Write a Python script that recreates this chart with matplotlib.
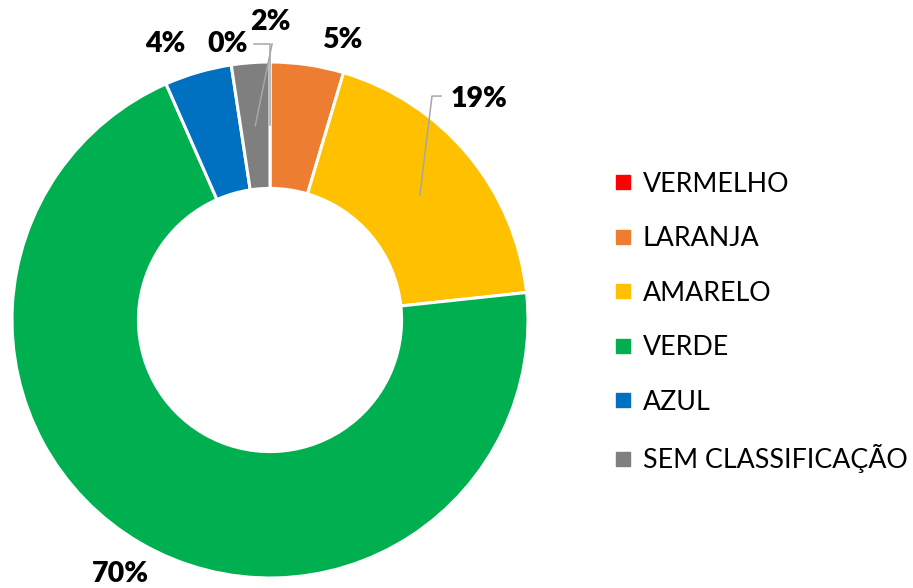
import numpy as np
from matplotlib import pyplot as plt
from matplotlib.lines import Line2D

categories = ['VERMELHO', 'LARANJA', 'AMARELO', 'VERDE', 'AZUL', 'SEM CLASSIFICAÇÃO']
shares = [0.0, 4.6, 18.7, 70.1, 4.2, 2.4]
labels = ['0%', '5%', '19%', '70%', '4%', '2%']
colors = ['#FF0000', '#ED7D31', '#FFC000', '#00B050', '#0070C0', '#7F7F7F']

plt.rcParams['font.family'] = ['Lato', 'DejaVu Sans']

fig = plt.figure(figsize=(9.13, 5.88), dpi=100)
W, H = 913, 588
cx, cy, r = 270, 320, 258
ax = fig.add_axes([(cx - r) / W, (H - cy - r) / H, 2 * r / W, 2 * r / H])

wedges, _ = ax.pie(shares, colors=colors, startangle=90, counterclock=False,
                   radius=1, wedgeprops=dict(width=0.49, edgecolor='white', linewidth=2.2))
ax.set_xlim(-1, 1)
ax.set_ylim(-1, 1)
ax.set_aspect('equal')
ax.axis('off')

# text placement per label, in radius units (Excel "outside end" style)
text_pos = {
    '0%': (-0.165, 1.07),
    '5%': (0.28, 1.085),
    '19%': (0.81, 0.855),
    '70%': (-0.58, -0.985),
    '4%': (-0.405, 1.07),
    '2%': (0.0, 1.155),
}
# leader lines: elbow and end point for labels moved away from their slice
leaders = {
    '0%': [(0.0, 1.07), (-0.062, 1.07)],
    '19%': [(0.628, 0.868), (0.663, 0.868)],
    '2%': [(0.008, 1.07)],
}

for w, lab in zip(wedges, labels):
    mid = np.deg2rad((w.theta1 + w.theta2) / 2)
    if lab in leaders:
        ax0 = 0.756 * np.cos(mid)
        ay0 = 0.756 * np.sin(mid)
        pts = [(ax0, ay0)] + leaders[lab]
        ax.plot([p[0] for p in pts], [p[1] for p in pts], color='#A6A6A6',
                linewidth=1.1, clip_on=False, zorder=3)
    tx, ty = text_pos[lab]
    ax.text(tx, ty, lab, ha='center', va='center', fontsize=20.5,
            fontweight='heavy', color='black', clip_on=False)

handles = [Line2D([], [], marker='s', linestyle='', markersize=9.5,
                  markerfacecolor=c, markeredgecolor=c) for c in colors]
fig.legend(handles, categories, loc='upper left', bbox_to_anchor=(604 / W, 1 - 161 / H),
           frameon=False, fontsize=19.3, handlelength=0.6, handletextpad=0.45,
           labelspacing=1.1, borderaxespad=0)

fig.savefig('out.png', dpi=100)
